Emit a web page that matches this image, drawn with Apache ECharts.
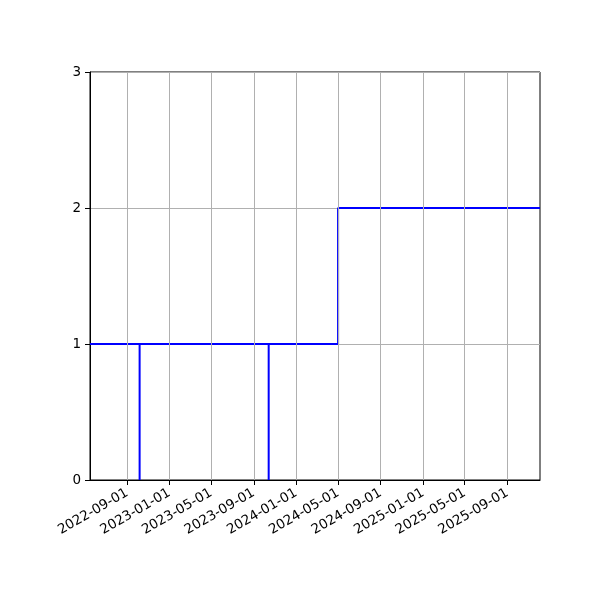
<!DOCTYPE html>
<html>
<head>
<meta charset="utf-8">
<script src="https://cdn.jsdelivr.net/npm/echarts@6/dist/echarts.min.js"></script>
<style>html,body{margin:0;padding:0;background:#fff}#c{width:600px;height:600px}</style>
</head>
<body>
<div id="c"></div>
<script>
// Step events: date where value changes, and the value from that date on
const eventDates = ['2022-05-17','2022-10-07','2022-10-07','2023-10-14','2023-10-14','2024-05-01','2025-12-04'];
const eventValues = [1, 0, 1, 0, 1, 2, 2];
const xTickLabels = ['2022-09-01','2023-01-01','2023-05-01','2023-09-01','2024-01-01','2024-05-01','2024-09-01','2025-01-01','2025-05-01','2025-09-01'];
const yTicks = [0, 1, 2, 3];
const xMin = '2022-05-17';
const xMax = '2025-12-04';

const ts = s => new Date(s + 'T00:00:00Z').getTime();
const data = eventDates.map((d, i) => [ts(d), eventValues[i]]);
const tickVals = xTickLabels.map(ts);
const font = 'DejaVu Sans';

const chart = echarts.init(document.getElementById('c'));
chart.setOption({
  animation: false,
  grid: {left: 90, right: 60, top: 72, bottom: 120, show: true, borderColor: '#000', borderWidth: 1, backgroundColor: 'transparent'},
  xAxis: {
    type: 'value',
    min: ts(xMin), max: ts(xMax),
    axisLine: {show: true, lineStyle: {color: '#000', width: 1}},
    axisTick: {show: true, customValues: tickVals, length: 5, lineStyle: {color: '#000'}},
    axisLabel: {
      customValues: tickVals, rotate: 30, margin: 12, color: '#000', fontFamily: font, fontSize: 13.5,
      hideOverlap: false,
      formatter: v => new Date(v).toISOString().slice(0, 10)
    },
    splitLine: {show: false}
  },
  yAxis: {
    type: 'value', min: yTicks[0], max: yTicks[yTicks.length - 1], interval: 1,
    axisLine: {show: true, lineStyle: {color: '#000', width: 1}},
    axisTick: {show: true, length: 5, lineStyle: {color: '#000'}},
    axisLabel: {color: '#000', fontFamily: font, fontSize: 13.5, margin: 9},
    splitLine: {show: true, lineStyle: {color: '#b0b0b0', width: 1}}
  },
  series: [{
    type: 'line', step: 'end', data: data, showSymbol: false,
    lineStyle: {color: '#0000ff', width: 2}, z: 3,
    markLine: {
      silent: true, symbol: 'none', label: {show: false}, animation: false,
      lineStyle: {color: '#b0b0b0', width: 1, type: 'solid'},
      data: tickVals.map(v => ({xAxis: v}))
    }
  }]
});
</script>
</body>
</html>
